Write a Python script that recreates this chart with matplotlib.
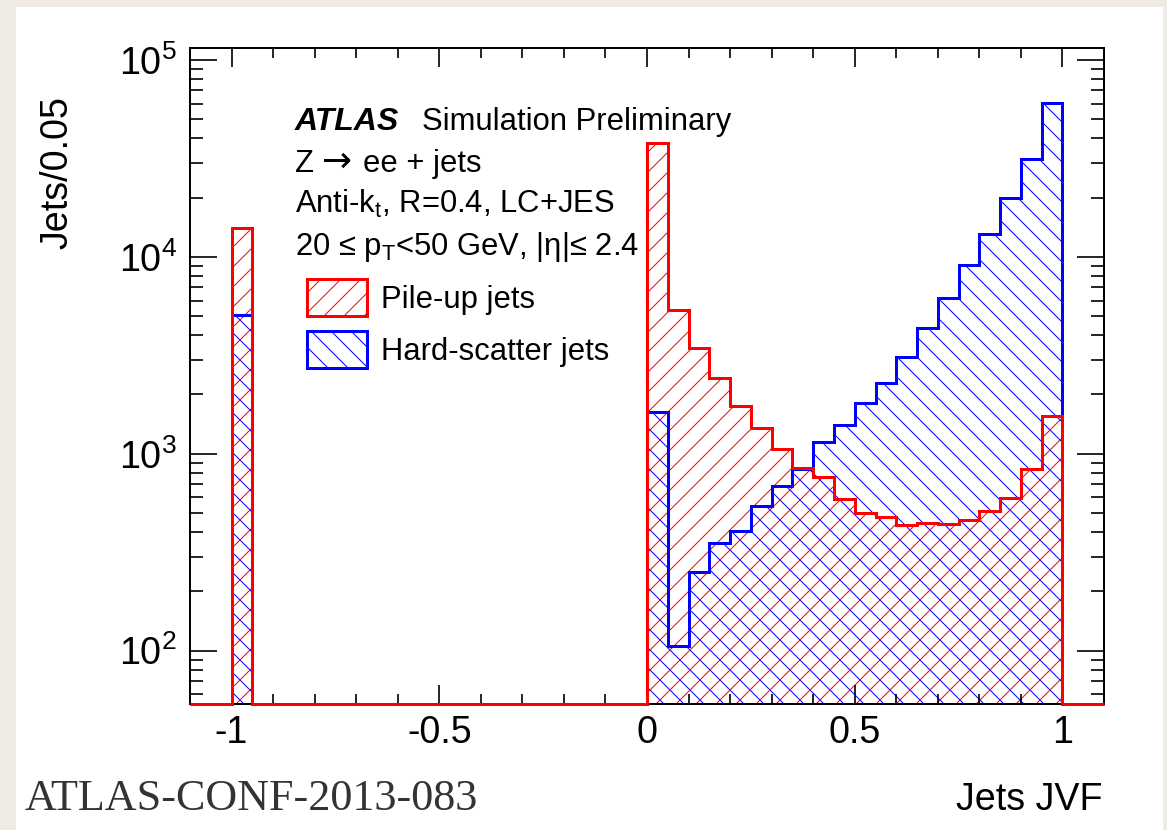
import numpy as np
import matplotlib
matplotlib.use('Agg')
import matplotlib.pyplot as plt
from matplotlib.patches import Patch, Rectangle
from matplotlib.ticker import MultipleLocator, LogLocator, NullFormatter

W, H, DPI = 1167, 830, 120

plt.rcParams['font.family'] = ['Liberation Sans', 'DejaVu Sans']
plt.rcParams['mathtext.fontset'] = 'custom'
plt.rcParams['mathtext.rm'] = 'Liberation Sans'
plt.rcParams['mathtext.it'] = 'Liberation Sans:italic'
plt.rcParams['mathtext.bf'] = 'Liberation Sans:bold'
plt.rcParams['axes.unicode_minus'] = False
plt.rcParams['hatch.linewidth'] = 0.6

# JVF = -1 bin (jets without associated tracks)
pileup_m1 = 14000
hardscatter_m1 = 5080

# JVF in [0, 1], 0.05 wide bins
pileup = [38000, 5360, 3440, 2420, 1745, 1350, 1060, 851, 759, 589,
          500, 475, 436, 445, 440, 460, 514, 596, 836, 1560]
hardscatter = [1622, 106, 252, 351, 406, 545, 688, 836, 1141, 1403,
               1800, 2300, 3100, 4340, 6170, 9080, 13130, 20000, 31300, 60300]

xticks = [-1, -0.5, 0, 0.5, 1]
xtick_labels = ['-1', '-0.5', '0', '0.5', '1']
yticks = [1e2, 1e3, 1e4, 1e5]
ytick_labels = [r'$\mathregular{10^{2}}$', r'$\mathregular{10^{3}}$',
                r'$\mathregular{10^{4}}$', r'$\mathregular{10^{5}}$']

bin_width = 0.05
x_lo, x_hi = -1.1, 1.1
y_lo, y_hi = 53.6, 1.154e5

edges = np.round(np.arange(x_lo, x_hi + bin_width / 2, bin_width), 2)
i_m1 = int(np.argmin(np.abs(edges + 1.0)))
i_0 = int(np.argmin(np.abs(edges)))


def full_hist(m1, vals):
    h = np.zeros(len(edges) - 1)
    h[i_m1] = m1
    h[i_0:i_0 + len(vals)] = vals
    return h


h_pu = full_hist(pileup_m1, pileup)
h_hs = full_hist(hardscatter_m1, hardscatter)


def px(x):
    return x / W


def py(y):
    return 1 - y / H


fig = plt.figure(figsize=(W / DPI, H / DPI), dpi=DPI, facecolor='#efebe4')
fig.add_artist(Rectangle((px(16), 0), px(1163) - px(16), py(7),
                         transform=fig.transFigure, facecolor='white',
                         edgecolor='none', zorder=0))

ax = fig.add_axes([px(190), py(704), px(1104) - px(190), py(47.7) - py(704)])
ax.set_yscale('log')
ax.set_xlim(x_lo, x_hi)
ax.set_ylim(y_lo, y_hi)

# empty bins sit on the axis floor, like ROOT does
for h, col, hatch, z in [(h_hs, 'blue', '\\\\', 1.0), (h_pu, 'red', '//', 1.1)]:
    vals = np.maximum(h, y_lo)
    ax.stairs(vals, edges, baseline=y_lo, fill=True, facecolor='none',
              edgecolor=col, hatch=hatch, linewidth=0, zorder=z)
for h, col, z in [(h_hs, 'blue', 3.0), (h_pu, 'red', 3.1)]:
    vals = np.maximum(h, y_lo)
    ax.stairs(vals, edges, baseline=y_lo, fill=False, color=col,
              linewidth=1.8, zorder=z, clip_on=False)

# axes styling
for sp in ax.spines.values():
    sp.set_linewidth(1.2)
ax.set_xticks(xticks, xtick_labels)
ax.xaxis.set_minor_locator(MultipleLocator(0.1))
ax.set_yticks(yticks, ytick_labels)
ax.yaxis.set_minor_locator(LogLocator(base=10, subs=np.arange(2, 10)))
ax.yaxis.set_minor_formatter(NullFormatter())
ax.tick_params(which='both', direction='in', top=True, right=True,
               width=1.0, labelsize=22.6)
ax.tick_params(axis='x', which='major', length=11.4, pad=6.6)
ax.tick_params(axis='x', which='minor', length=6.0)
ax.tick_params(axis='y', which='major', length=16.2, pad=7.8)
ax.tick_params(axis='y', which='minor', length=7.8)

# axis titles
fig.text(px(57), py(173), 'Jets/0.05', rotation=90, ha='center',
         va='center', fontsize=22.6)
fig.text(px(1103), py(810), 'Jets JVF', ha='right', va='baseline',
         fontsize=22.6)
fig.text(px(25), py(810), 'ATLAS-CONF-2013-083', ha='left', va='baseline',
         fontsize=26.5, family='Liberation Serif', color='#333333')

# labels inside the frame
fs = 18.6
fig.text(px(295), py(130), 'ATLAS', fontweight='bold', fontstyle='italic',
         fontsize=19.2, va='baseline')
fig.text(px(422), py(130), 'Simulation Preliminary', fontsize=fs,
         va='baseline')
fig.text(px(295), py(172), 'Z', fontsize=fs, va='baseline')
fig.text(px(322), py(172), '\u2192', fontsize=21.5, va='baseline',
         family='DejaVu Sans')
fig.text(px(363), py(172), 'ee + jets', fontsize=fs, va='baseline')
fig.text(px(295), py(213), r'Anti-k$_{\mathregular{t}}$, R=0.4, LC+JES',
         fontsize=fs, va='baseline')
fig.text(px(295), py(255), '20 \u2264 p$_{\\mathregular{T}}$<50 GeV, |\u03b7|\u2264 2.4',
         fontsize=fs, va='baseline')

handles = [Patch(facecolor='none', edgecolor='red', hatch='//',
                 linewidth=1.8, label='Pile-up jets'),
           Patch(facecolor='none', edgecolor='blue', hatch='\\\\',
                 linewidth=1.8, label='Hard-scatter jets')]
fig.legend(handles=handles, loc='upper left',
           bbox_to_anchor=(px(307), py(279)), frameon=False, fontsize=fs,
           handlelength=1.95, handleheight=1.45, handletextpad=0.45,
           labelspacing=0.5, borderpad=0, borderaxespad=0)

fig.savefig('out.png', dpi=DPI, facecolor=fig.get_facecolor())
